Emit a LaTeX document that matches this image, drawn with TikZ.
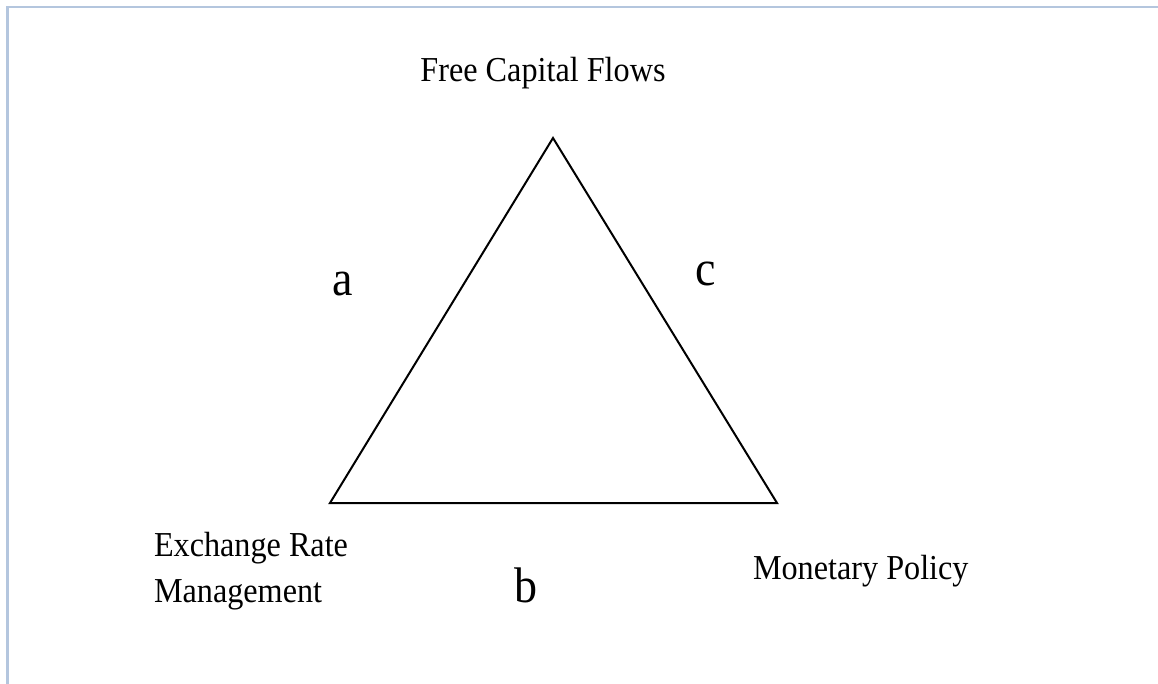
\documentclass[tikz,border=0pt]{standalone}
\usepackage{fontspec}
\setmainfont{Liberation Serif}[FakeStretch=0.92]
\usetikzlibrary{positioning}
\definecolor{framebl}{RGB}{180,198,222}
\tikzset{
  every picture/.style={line width=2pt},
  lbl/.style={inner sep=0pt,font=\fontsize{35}{46}\selectfont,align=left},
  side/.style={inner sep=0pt,font=\fontsize{50}{55}\selectfont},
  frm/.style={draw=framebl,line width=2.6pt},
}

\begin{document}
\begin{tikzpicture}[x=1pt,y=-1pt]
\useasboundingbox (0,0) rectangle (1158,684);
% frame
\draw[frm] (7.2,684) -- (7.2,7.2) -- (1158,7.2);
% triangle corners
\coordinate (FC) at (553,138);
\coordinate (ER) at (330,503);
\coordinate (MP) at (777,503);
\draw[line join=miter] (FC) -- (MP) -- (ER) -- cycle;
% corner labels
\node[lbl,anchor=base] (fcl) at (543,82) {Free Capital Flows};
\node[lbl,anchor=base west] (erl) at (153,602) {Exchange Rate\\Management};
\node[lbl,anchor=base west] (mpl) at (752,579) {Monetary Policy};
% side letters
\node[side,anchor=base] (sa) at (343,295) {a};
\node[side,anchor=base] (sb) at (526,602) {b};
\node[side,anchor=base] (sc) at (706,286) {c};
\end{tikzpicture}
\end{document}
